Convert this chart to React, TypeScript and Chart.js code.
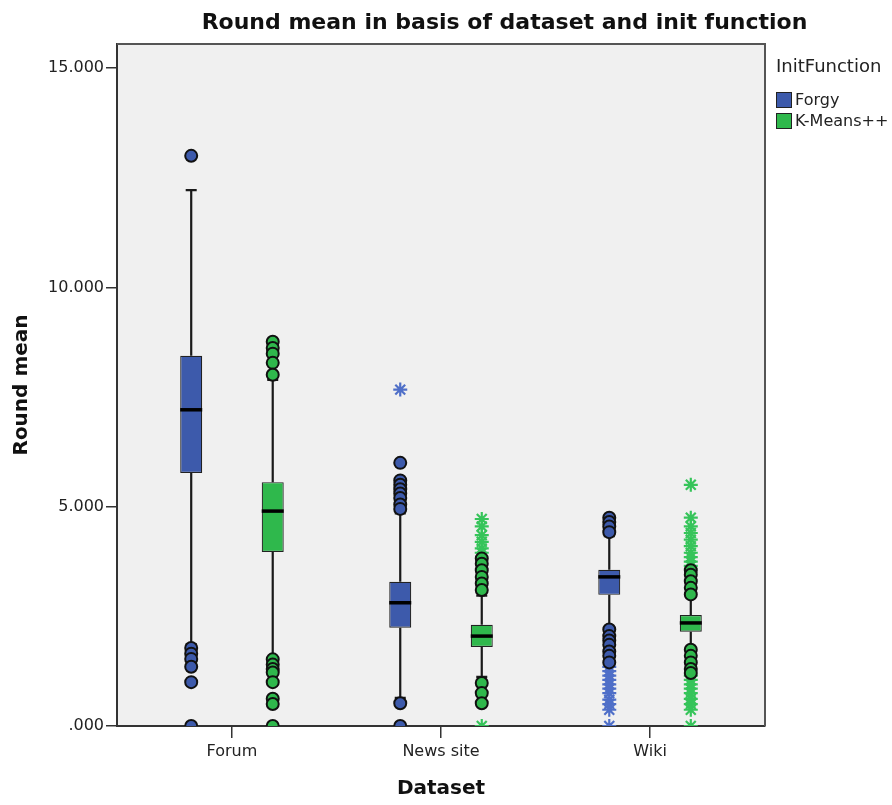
import React, { useEffect, useRef } from "react";
import { Chart, registerables } from "chart.js";

Chart.register(...registerables);

const chartTitle = "Round mean in basis of dataset and init function";
const xTitle = "Dataset";
const yTitle = "Round mean";
const legendTitle = "InitFunction";

const categories = ["Forum", "News site", "Wiki"];
const initFunctions = ["Forgy", "K-Means++"];
const yTickValues = [0, 5, 10, 15];

// Forgy boxplot statistics per dataset
const forgyLow = [1.87, 0.64, 2.26];
const forgyQ1 = [5.77, 2.24, 2.99];
const forgyMedian = [7.21, 2.81, 3.4];
const forgyQ3 = [8.44, 3.29, 3.56];
const forgyHigh = [12.22, 4.85, 4.33];
const forgyCircles = [
  [13.0, 1.78, 1.65, 1.53, 1.35, 1.0, 0.0],
  [6.0, 5.6, 5.5, 5.4, 5.3, 5.2, 5.05, 4.95, 0.52, 0.0],
  [4.75, 4.65, 4.55, 4.42, 2.2, 2.05, 1.95, 1.85, 1.7, 1.6, 1.45],
];
const forgyStars = [
  [],
  [7.67],
  [1.35, 1.25, 1.15, 1.05, 0.95, 0.85, 0.75, 0.6, 0.5, 0.37, 0.0],
];

// K-Means++ boxplot statistics per dataset
const kmeansLow = [1.57, 1.12, 1.78];
const kmeansQ1 = [3.97, 1.8, 2.15];
const kmeansMedian = [4.9, 2.05, 2.35];
const kmeansQ3 = [5.56, 2.31, 2.53];
const kmeansHigh = [7.89, 2.97, 2.94];
const kmeansCircles = [
  [8.76, 8.62, 8.49, 8.28, 8.01, 1.52, 1.4, 1.3, 1.22, 1.0, 0.62, 0.5, 0.0],
  [3.82, 3.7, 3.55, 3.4, 3.25, 3.1, 0.98, 0.75, 0.52],
  [3.55, 3.45, 3.3, 3.15, 3.0, 1.74, 1.6, 1.45, 1.3, 1.21],
];
const kmeansStars = [
  [],
  [4.72, 4.55, 4.35, 4.2, 4.05, 3.95, 0.0],
  [5.5, 4.75, 4.55, 4.4, 4.25, 4.1, 3.95, 3.85, 3.75, 3.65, 1.15, 1.05, 0.95, 0.85, 0.75, 0.62, 0.5, 0.37, 0.0],
];

const FONT = '"DejaVu Sans", "Liberation Sans", Arial, sans-serif';
const BLUE = "#3d5aab";
const GREEN = "#2fb84c";
const BLUE_STAR = "#4f6fc8";
const GREEN_STAR = "#36c45a";
const BOX_SHIFT = 0.195;

const groups = [
  { label: initFunctions[0], color: BLUE, star: BLUE_STAR, shift: -BOX_SHIFT, low: forgyLow, q1: forgyQ1, med: forgyMedian, q3: forgyQ3, high: forgyHigh, circles: forgyCircles, stars: forgyStars },
  { label: initFunctions[1], color: GREEN, star: GREEN_STAR, shift: BOX_SHIFT, low: kmeansLow, q1: kmeansQ1, med: kmeansMedian, q3: kmeansQ3, high: kmeansHigh, circles: kmeansCircles, stars: kmeansStars },
];

const flatPoints = (lists: number[][], shift: number) =>
  lists.flatMap((vals, i) => vals.map((v) => ({ x: i + 1 + shift, y: v })));

const boxPlugin = {
  id: "boxParts",
  beforeDraw(chart: any) {
    const { ctx, chartArea: a } = chart;
    ctx.save();
    ctx.fillStyle = "#ffffff";
    ctx.fillRect(0, 0, chart.width, chart.height);
    ctx.fillStyle = "#f0f0f0";
    ctx.fillRect(a.left, a.top, a.right - a.left, a.bottom - a.top);
    ctx.restore();
  },
  beforeDatasetsDraw(chart: any) {
    const { ctx } = chart;
    const xs = chart.scales.x;
    const ys = chart.scales.y;
    ctx.save();
    ctx.strokeStyle = "#1a1a1a";
    ctx.lineWidth = 2.2;
    groups.forEach((g, gi) => {
      const meta = chart.getDatasetMeta(gi);
      categories.forEach((_, i) => {
        const x = xs.getPixelForValue(i + 1 + g.shift);
        const w = meta.data[i] ? meta.data[i].width : 22;
        const yl = ys.getPixelForValue(g.low[i]);
        const yh = ys.getPixelForValue(g.high[i]);
        const y1 = ys.getPixelForValue(g.q1[i]);
        const y3 = ys.getPixelForValue(g.q3[i]);
        ctx.beginPath();
        ctx.moveTo(x, yh);
        ctx.lineTo(x, y3);
        ctx.moveTo(x, y1);
        ctx.lineTo(x, yl);
        ctx.moveTo(x - w / 4, yh);
        ctx.lineTo(x + w / 4, yh);
        ctx.moveTo(x - w / 4, yl);
        ctx.lineTo(x + w / 4, yl);
        ctx.stroke();
      });
    });
    ctx.restore();
  },
  afterDatasetsDraw(chart: any) {
    const { ctx, chartArea: a } = chart;
    const xs = chart.scales.x;
    const ys = chart.scales.y;
    ctx.save();
    ctx.strokeStyle = "#000000";
    ctx.lineWidth = 3.5;
    groups.forEach((g, gi) => {
      const meta = chart.getDatasetMeta(gi);
      categories.forEach((_, i) => {
        const x = xs.getPixelForValue(i + 1 + g.shift);
        const w = meta.data[i] ? meta.data[i].width : 22;
        const ym = ys.getPixelForValue(g.med[i]);
        ctx.beginPath();
        ctx.moveTo(x - w / 2, ym);
        ctx.lineTo(x + w / 2, ym);
        ctx.stroke();
      });
    });
    // frame top & right
    ctx.strokeStyle = "#555555";
    ctx.lineWidth = 2;
    ctx.beginPath();
    ctx.moveTo(a.left, a.top);
    ctx.lineTo(a.right, a.top);
    ctx.lineTo(a.right, a.bottom);
    ctx.stroke();
    ctx.restore();
  },
  afterDraw(chart: any) {
    const { ctx, chartArea: a } = chart;
    ctx.save();
    // title
    ctx.fillStyle = "#111111";
    ctx.font = `bold 22px ${FONT}`;
    ctx.textAlign = "center";
    ctx.textBaseline = "middle";
    ctx.fillText(chartTitle, (a.left + chart.width) / 2, 23);
    // legend
    const lx = a.right + 11;
    ctx.textAlign = "left";
    ctx.font = `18px ${FONT}`;
    ctx.fillStyle = "#222222";
    ctx.fillText(legendTitle, lx, 67);
    ctx.font = `16px ${FONT}`;
    groups.forEach((g, gi) => {
      const cy = 100 + gi * 21;
      ctx.fillStyle = g.color;
      ctx.fillRect(lx, cy - 8, 16, 16);
      ctx.strokeStyle = "#222222";
      ctx.lineWidth = 1;
      ctx.strokeRect(lx + 0.5, cy - 7.5, 15, 15);
      ctx.fillStyle = "#222222";
      ctx.fillText(g.label, lx + 19, cy + 1);
    });
    ctx.restore();
  },
};

export default function App() {
  const canvasRef = useRef<HTMLCanvasElement | null>(null);

  useEffect(() => {
    if (!canvasRef.current) return;
    const datasets: any[] = [];
    groups.forEach((g) => {
      datasets.push({
        type: "bar",
        label: g.label,
        data: categories.map((_, i) => ({ x: i + 1 + g.shift, y: [g.q1[i], g.q3[i]] })),
        backgroundColor: g.color,
        borderColor: "#222222",
        borderWidth: 1.2,
        borderSkipped: false,
        grouped: false,
        maxBarThickness: 22,
      });
    });
    groups.forEach((g) => {
      datasets.push({
        type: "scatter",
        label: g.label + " outliers",
        data: flatPoints(g.circles, g.shift),
        pointStyle: "circle",
        pointRadius: 6,
        backgroundColor: g.color,
        borderColor: "#111111",
        borderWidth: 2,
        clip: 0,
      });
      datasets.push({
        type: "scatter",
        label: g.label + " extremes",
        data: flatPoints(g.stars, g.shift),
        pointStyle: "star",
        pointRadius: 7,
        backgroundColor: g.star,
        borderColor: g.star,
        borderWidth: 2.2,
        clip: 0,
      });
    });

    const chart = new Chart(canvasRef.current, {
      type: "bar",
      data: { datasets },
      options: {
        responsive: false,
        animation: false,
        devicePixelRatio: 1,
        layout: { padding: { top: 44, right: 127, left: 0, bottom: 0 } },
        plugins: {
          legend: { display: false },
          tooltip: { enabled: false },
          title: { display: false },
        },
        scales: {
          x: {
            type: "linear",
            min: 0.45,
            max: 3.55,
            offset: false,
            afterFit: (s: any) => {
              s.height = 79;
            },
            afterBuildTicks: (s: any) => {
              s.ticks = categories.map((_, i) => ({ value: i + 1 }));
            },
            ticks: {
              callback: (v: any) => categories[Math.round(Number(v)) - 1] ?? "",
              font: { family: FONT, size: 16 },
              color: "#222222",
              padding: 4,
              maxRotation: 0,
              autoSkip: false,
            },
            grid: { drawOnChartArea: false, drawTicks: true, tickLength: 12, color: "#333333", lineWidth: 1.5, offset: false },
            border: { display: true, color: "#333333", width: 2 },
            title: {
              display: true,
              text: xTitle,
              font: { family: FONT, size: 20, weight: "bold" },
              color: "#111111",
              padding: { top: 0, bottom: 4 },
            },
          },
          y: {
            type: "linear",
            min: 0,
            max: 15.55,
            afterFit: (s: any) => {
              s.width = 117;
            },
            afterBuildTicks: (s: any) => {
              s.ticks = yTickValues.map((v) => ({ value: v }));
            },
            ticks: {
              callback: (v: any) => (Number(v) === 0 ? ".000" : Number(v).toFixed(3)),
              font: { family: FONT, size: 16 },
              color: "#222222",
              padding: 2,
            },
            grid: { drawOnChartArea: false, drawTicks: true, tickLength: 11, color: "#333333", lineWidth: 1.5 },
            border: { display: true, color: "#333333", width: 2 },
            title: {
              display: true,
              text: yTitle,
              font: { family: FONT, size: 20, weight: "bold" },
              color: "#111111",
              padding: { top: 10, bottom: 0 },
            },
          },
        },
      } as any,
      plugins: [boxPlugin],
    });
    return () => chart.destroy();
  }, []);

  return (
    <div style={{ position: "absolute", left: 0, top: 0, width: 892, height: 805, background: "#ffffff" }}>
      <canvas ref={canvasRef} width={892} height={805} />
    </div>
  );
}
